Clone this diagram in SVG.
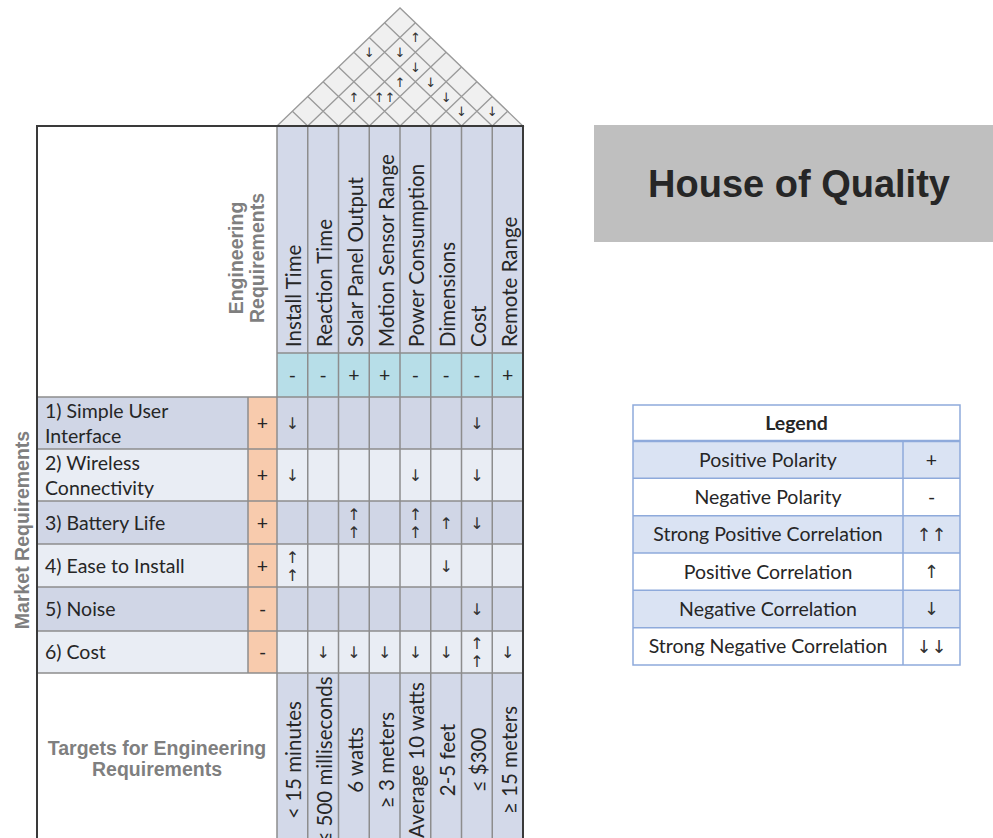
<svg xmlns="http://www.w3.org/2000/svg" width="993" height="838" viewBox="0 0 993 838">
<style>
.cal{font-family:Lato,"Open Sans","DejaVu Sans",sans-serif;font-size:19.5px;fill:#262626}
.ch{font-size:20.5px}
.hd{font-family:"Liberation Sans",Arial,sans-serif;font-weight:bold;font-size:19.5px;fill:#7f7f7f}
.arr{font-family:"DejaVu Sans",sans-serif;font-size:16px;fill:#333;text-anchor:middle}
.larr{font-family:"DejaVu Sans",sans-serif;font-size:18px;fill:#333;text-anchor:middle}
.rarr{font-family:"DejaVu Sans",sans-serif;font-size:13px;fill:#333;text-anchor:middle}
.mid{text-anchor:middle}
.grid{stroke:#8d8d8d;stroke-width:1.5;fill:none}
.frame{stroke:#3a3a3a;stroke-width:2;fill:none}
.odd{fill:#d0d6e6}
.even{fill:#e9edf4}
.imp{fill:#f8cbad}
.col{fill:#d3d9e9}
.pol{fill:#b7dee8}
.lg{stroke:#8eaadb;stroke-width:1.5}
</style>
<rect width="993" height="838" fill="#ffffff"/>

<g id="roof">
<polygon points="277,126 400,7.96 523,126" fill="#f0f0f0" stroke="#9a9a9a" stroke-width="1.3"/>
<path stroke="#9a9a9a" stroke-width="1.3" fill="none" d="M307.75,126L415.375,22.68M338.5,126L430.75,37.44M369.25,126L446.125,52.2M400,126L461.5,66.96M430.75,126L476.875,81.72M461.5,126L492.25,96.48M492.25,126L507.625,111.24M492.25,126L384.625,22.68M461.5,126L369.25,37.44M430.75,126L353.875,52.2M400,126L338.5,66.96M369.25,126L323.125,81.72M338.5,126L307.75,96.48M307.75,126L292.375,111.24"/>
<text class="rarr" x="415.4" y="42.4">↑</text>
<text class="rarr" x="369.3" y="57.2">↓</text>
<text class="rarr" x="400" y="57.2">↓</text>
<text class="rarr" x="415.4" y="72">↓</text>
<text class="rarr" x="400" y="86.7">↑</text>
<text class="rarr" x="430.8" y="86.7">↓</text>
<text class="rarr" x="353.9" y="101.5">↑</text>
<text class="rarr" x="384.6" y="101.5">↑↑</text>
<text class="rarr" x="446.1" y="101.5">↓</text>
<text class="rarr" x="461.5" y="116.2">↓</text>
<text class="rarr" x="492.3" y="116.2">↓</text>
</g>

<g id="table-fills">
<rect x="277" y="126" width="246" height="227" class="col"/>
<rect x="277" y="353" width="246" height="44" class="pol"/>
<rect x="37" y="397" width="486" height="52" class="odd"/>
<rect x="37" y="449" width="486" height="52" class="even"/>
<rect x="37" y="501" width="486" height="43" class="odd"/>
<rect x="37" y="544" width="486" height="43" class="even"/>
<rect x="37" y="587" width="486" height="44" class="odd"/>
<rect x="37" y="631" width="486" height="42" class="even"/>
<rect x="248" y="397" width="29" height="276" class="imp"/>
<rect x="277" y="673" width="246" height="165" class="col"/>
</g>

<g id="connectors">
<path class="grid" d="M277,126V838M307.75,126V838M338.5,126V838M369.25,126V838M400,126V838M430.75,126V838M461.5,126V838M492.25,126V838M248,397V673M277,353H523M37,397H523M37,449H523M37,501H523M37,544H523M37,587H523M37,631H523M37,673H523"/>
<path class="frame" d="M37,838V126H523V838"/>
</g>

<g id="eng-req-label">
<text class="hd mid" transform="translate(243,258) rotate(-90)">Engineering</text>
<text class="hd mid" transform="translate(264,258) rotate(-90)">Requirements</text>
</g>

<g id="market-req-label">
<text class="hd mid" font-size="22" transform="translate(29,530) rotate(-90)">Market Requirements</text>
</g>

<g id="eng-requirements">
<text class="cal ch" transform="translate(301.4,347) rotate(-90)">Install Time</text>
<text class="cal ch" transform="translate(332.1,347) rotate(-90)">Reaction Time</text>
<text class="cal ch" transform="translate(362.9,347) rotate(-90)">Solar Panel Output</text>
<text class="cal ch" transform="translate(393.6,347) rotate(-90)">Motion Sensor Range</text>
<text class="cal ch" transform="translate(424.4,347) rotate(-90)">Power Consumption</text>
<text class="cal ch" transform="translate(455.1,347) rotate(-90)">Dimensions</text>
<text class="cal ch" transform="translate(485.9,347) rotate(-90)">Cost</text>
<text class="cal ch" transform="translate(516.6,347) rotate(-90)">Remote Range</text>
</g>

<g id="polarity">
<text class="cal mid" x="292.4" y="382">-</text>
<text class="cal mid" x="323.1" y="382">-</text>
<text class="cal mid" x="353.9" y="382">+</text>
<text class="cal mid" x="384.6" y="382">+</text>
<text class="cal mid" x="415.4" y="382">-</text>
<text class="cal mid" x="446.1" y="382">-</text>
<text class="cal mid" x="476.9" y="382">-</text>
<text class="cal mid" x="507.6" y="382">+</text>
</g>

<g id="market-requirements">
<text class="cal" x="45" y="418">1) Simple User</text>
<text class="cal" x="45" y="443">Interface</text>
<text class="cal" x="45" y="470">2) Wireless</text>
<text class="cal" x="45" y="495">Connectivity</text>
<text class="cal" x="45" y="529.5">3) Battery Life</text>
<text class="cal" x="45" y="572.5">4) Ease to Install</text>
<text class="cal" x="45" y="616">5) Noise</text>
<text class="cal" x="45" y="659">6) Cost</text>
<text class="cal mid" x="262.5" y="430">+</text>
<text class="cal mid" x="262.5" y="482">+</text>
<text class="cal mid" x="262.5" y="529.5">+</text>
<text class="cal mid" x="262.5" y="572.5">+</text>
<text class="cal mid" x="262.5" y="616">-</text>
<text class="cal mid" x="262.5" y="659">-</text>
</g>

<g id="relationships">
<text class="arr" x="292.4" y="429">↓</text>
<text class="arr" x="476.9" y="429">↓</text>
<text class="arr" x="292.4" y="481">↓</text>
<text class="arr" x="415.4" y="481">↓</text>
<text class="arr" x="476.9" y="481">↓</text>
<text class="arr" x="353.9" y="519.5">↑<tspan x="353.9" dy="18">↑</tspan></text>
<text class="arr" x="415.4" y="519.5">↑<tspan x="415.4" dy="18">↑</tspan></text>
<text class="arr" x="446.1" y="528.5">↑</text>
<text class="arr" x="476.9" y="528.5">↓</text>
<text class="arr" x="292.4" y="562.5">↑<tspan x="292.4" dy="18">↑</tspan></text>
<text class="arr" x="446.1" y="571.5">↓</text>
<text class="arr" x="476.9" y="615">↓</text>
<text class="arr" x="323.1" y="658">↓</text>
<text class="arr" x="353.9" y="658">↓</text>
<text class="arr" x="384.6" y="658">↓</text>
<text class="arr" x="415.4" y="658">↓</text>
<text class="arr" x="446.1" y="658">↓</text>
<text class="arr" x="476.9" y="649">↑<tspan x="476.9" dy="18">↑</tspan></text>
<text class="arr" x="507.6" y="658">↓</text>
</g>

<g id="targets">
<text class="hd mid" x="157" y="755">Targets for Engineering</text>
<text class="hd mid" x="157" y="776">Requirements</text>
<text class="cal ch mid" transform="translate(301.4,760) rotate(-90)">&lt; 15 minutes</text>
<text class="cal ch mid" transform="translate(332.1,760) rotate(-90)">≤ 500 milliseconds</text>
<text class="cal ch mid" transform="translate(362.9,760) rotate(-90)">6 watts</text>
<text class="cal ch mid" transform="translate(393.6,760) rotate(-90)">≥ 3 meters</text>
<text class="cal ch mid" transform="translate(424.4,760) rotate(-90)">Average 10 watts</text>
<text class="cal ch mid" transform="translate(455.1,760) rotate(-90)">2-5 feet</text>
<text class="cal ch mid" transform="translate(485.9,760) rotate(-90)">≤ $300</text>
<text class="cal ch mid" transform="translate(516.6,760) rotate(-90)">≥ 15 meters</text>
</g>

<g id="title">
<rect x="594" y="125" width="399" height="117" fill="#bfbfbf"/>
<text x="799" y="197" text-anchor="middle" font-family="Liberation Sans,Arial,sans-serif" font-weight="bold" font-size="38" fill="#262626">House of Quality</text>
</g>

<g id="legend">
<rect x="633" y="405" width="327" height="36" fill="#ffffff"/>
<rect x="633" y="441" width="327" height="37.3" fill="#dae3f3"/>
<rect x="633" y="478.3" width="327" height="37.4" fill="#ffffff"/>
<rect x="633" y="515.7" width="327" height="37.3" fill="#dae3f3"/>
<rect x="633" y="553" width="327" height="37.3" fill="#ffffff"/>
<rect x="633" y="590.3" width="327" height="37.4" fill="#dae3f3"/>
<rect x="633" y="627.7" width="327" height="37.3" fill="#ffffff"/>
<path class="lg" fill="none" d="M633,478.3H960M633,515.7H960M633,553H960M633,590.3H960M633,627.7H960M903,441V665"/>
<path stroke="#8eaadb" stroke-width="2.5" d="M633,441H960"/>
<rect x="633" y="405" width="327" height="260" fill="none" class="lg"/>
<text class="cal mid" x="796.5" y="430" font-weight="bold">Legend</text>
<text class="cal mid" x="768" y="466.5">Positive Polarity</text>
<text class="cal mid" x="768" y="504">Negative Polarity</text>
<text class="cal mid" x="768" y="541">Strong Positive Correlation</text>
<text class="cal mid" x="768" y="578.5">Positive Correlation</text>
<text class="cal mid" x="768" y="616">Negative Correlation</text>
<text class="cal mid" x="768" y="653">Strong Negative Correlation</text>
<text class="cal mid" x="931.5" y="466.5">+</text>
<text class="cal mid" x="931.5" y="504">-</text>
<text class="larr" x="931.5" y="540.5">↑↑</text>
<text class="larr" x="931.5" y="578">↑</text>
<text class="larr" x="931.5" y="615">↓</text>
<text class="larr" x="931.5" y="652.5">↓↓</text>
</g>
</svg>
